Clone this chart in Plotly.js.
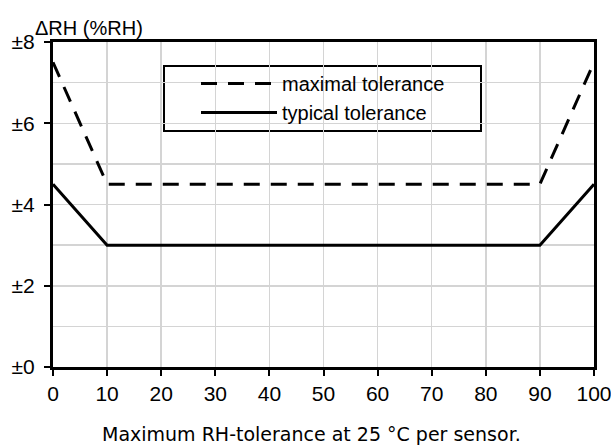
<!DOCTYPE html>
<html>
<head>
<meta charset="utf-8">
<script src="https://cdn.plot.ly/plotly-3.0.1.min.js"></script>
<style>html,body{margin:0;padding:0;background:#fff;}#chart{width:611px;height:447px;}</style>
</head>
<body>
<div id="chart"></div>
<script>
const humidity = [0, 10, 90, 100];
const maximalTolerance = [7.5, 4.5, 4.5, 7.5];
const typicalTolerance = [4.5, 3, 3, 4.5];
const yTickValues = [0, 2, 4, 6, 8];
const yTickLabels = ["±0", "±2", "±4", "±6", "±8"];
const xTickValues = [0, 10, 20, 30, 40, 50, 60, 70, 80, 90, 100];

const narrow = "Liberation Sans Narrow, Arial Narrow, Liberation Sans, Arial, sans-serif";

const traces = [
  {x: humidity, y: maximalTolerance, mode: "lines", name: "maximal tolerance",
   line: {color: "#000", width: 3, dash: "16px,11px"}},
  {x: humidity, y: typicalTolerance, mode: "lines", name: "typical tolerance",
   line: {color: "#000", width: 3}}
];

const L = 53, R = 17, T = 42, B = 80;
const W = 611 - L - R, H = 447 - T - B;
const px = v => (v - L) / W;
const py = v => 1 - (v - T) / H;

const layout = {
  width: 611, height: 447,
  margin: {l: L, r: R, t: T, b: B, pad: 0},
  paper_bgcolor: "#fff", plot_bgcolor: "#fff",
  showlegend: true,
  font: {family: narrow, color: "#000"},
  xaxis: {
    range: [0, 100], tickvals: xTickValues, showgrid: true, gridcolor: "#d4d4d4", gridwidth: 1.5,
    showline: true, linecolor: "#000", linewidth: 3, mirror: true,
    ticks: "outside", ticklen: 6, tickwidth: 2, tickcolor: "#000", ticklabeloverflow: "allow",
    tickfont: {size: 21, family: narrow}, zeroline: false, fixedrange: true
  },
  yaxis: {
    range: [0, 8], tickvals: yTickValues, ticktext: yTickLabels, showgrid: true, gridcolor: "#d4d4d4", gridwidth: 1.5,
    minor: {dtick: 1, showgrid: true, gridcolor: "#d4d4d4", gridwidth: 1.5, ticks: ""},
    showline: true, linecolor: "#000", linewidth: 3, mirror: true,
    ticks: "outside", ticklen: 6, tickwidth: 2, tickcolor: "#000", ticklabeloverflow: "allow",
    ticklabelstandoff: 5,
    tickfont: {size: 21, family: narrow}, zeroline: false, fixedrange: true
  },
  legend: {
    x: px(196), y: py(64), xanchor: "left", yanchor: "top",
    bgcolor: "rgba(0,0,0,0)", borderwidth: 0, itemwidth: 76,
    font: {size: 20, family: narrow, color: "#000"}
  },
  shapes: [{
    type: "rect", xref: "paper", yref: "paper",
    x0: px(164), x1: px(481), y0: py(66), y1: py(131),
    fillcolor: "#fff", line: {color: "#000", width: 2}, layer: "below"
  }],
  annotations: [
    {text: "ΔRH (%RH)", xref: "paper", yref: "paper", x: px(33), y: py(28),
     xanchor: "left", yanchor: "middle", showarrow: false,
     font: {size: 20, family: narrow, color: "#000"}},
    {text: "Maximum RH-tolerance at 25 °C per sensor.", xref: "paper", yref: "paper",
     x: px(311), y: py(434), xanchor: "center", yanchor: "middle", showarrow: false,
     font: {size: 19, family: "DejaVu Sans, Verdana, sans-serif", color: "#000"}}
  ]
};

Plotly.newPlot("chart", traces, layout, {displayModeBar: false, staticPlot: true});
</script>
</body>
</html>
